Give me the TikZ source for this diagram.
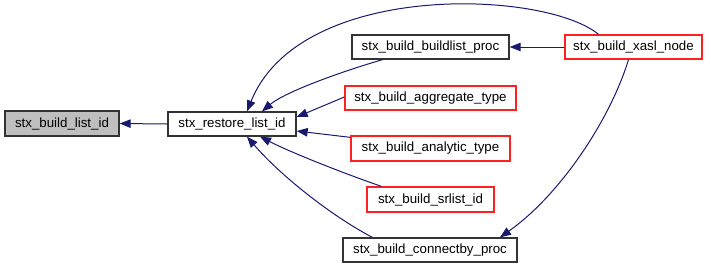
\documentclass[tikz,border=0pt]{standalone}
\usepackage{fontspec}
\setmainfont{Liberation Sans}
\usetikzlibrary{arrows.meta}
\definecolor{edgeblue}{HTML}{191970}
\definecolor{hlred}{HTML}{FF2020}
\definecolor{curgray}{HTML}{BFBFBF}
\begin{document}
\begin{tikzpicture}[x=1pt,y=-1pt,
  fn/.style={draw=black!80,line width=1.3pt,rectangle,inner sep=0pt,minimum height=24pt,
    font=\fontsize{13.3}{15}\selectfont,text=black},
  missing/.style={fn,draw=hlred},
  current/.style={fn,fill=curgray},
  edge/.style={draw=edgeblue,line width=1pt,-{Triangle[length=11pt,width=8.5pt]},fill=none}]
\useasboundingbox (0,0) rectangle (711,269);

\node[current,minimum width=114pt,minimum height=25pt] (listid) at (62,123.5) {stx\_build\_list\_id};
\node[fn,minimum width=128pt] (restore) at (232,124) {stx\_restore\_list\_id};
\node[fn,minimum width=157pt] (buildlist) at (430.5,47) {stx\_build\_buildlist\_proc};
\node[missing,minimum width=137pt] (xasl) at (633.5,47) {stx\_build\_xasl\_node};
\node[missing,minimum width=171pt] (aggregate) at (430.5,98) {stx\_build\_aggregate\_type};
\node[missing,minimum width=159pt,minimum height=25pt] (analytic) at (430.5,148.5) {stx\_build\_analytic\_type};
\node[missing,minimum width=127pt,minimum height=25pt] (srlist) at (430.5,199.5) {stx\_build\_srlist\_id};
\node[fn,minimum width=174pt] (connectby) at (430,250) {stx\_build\_connectby\_proc};

\draw[edge] (restore.west) -- (listid.east);
\draw[edge] ([xshift=-48pt]buildlist.south) .. controls (340,72) and (285,92) .. ([xshift=30pt]restore.north);
\draw[edge] ([xshift=-35pt]xasl.north) .. controls (545,-10) and (300,-20) .. ([xshift=15pt]restore.north);
\draw[edge] (xasl.west) -- (buildlist.east);
\draw[edge] ([yshift=1pt]aggregate.west) -- ([yshift=7pt]restore.east);
\draw[edge] ([yshift=-2pt]analytic.north west) -- ([yshift=-7pt]restore.east);
\draw[edge] ([xshift=15pt]srlist.north west) .. controls (340,172) and (290,152) .. ([xshift=28pt]restore.south);
\draw[edge] ([xshift=30pt]connectby.north west) .. controls (330,215) and (280,175) .. ([xshift=15pt]restore.south);
\draw[edge] ([xshift=-5pt]xasl.south) .. controls (610,120) and (560,195) .. ([xshift=70pt]connectby.north);
\end{tikzpicture}
\end{document}
